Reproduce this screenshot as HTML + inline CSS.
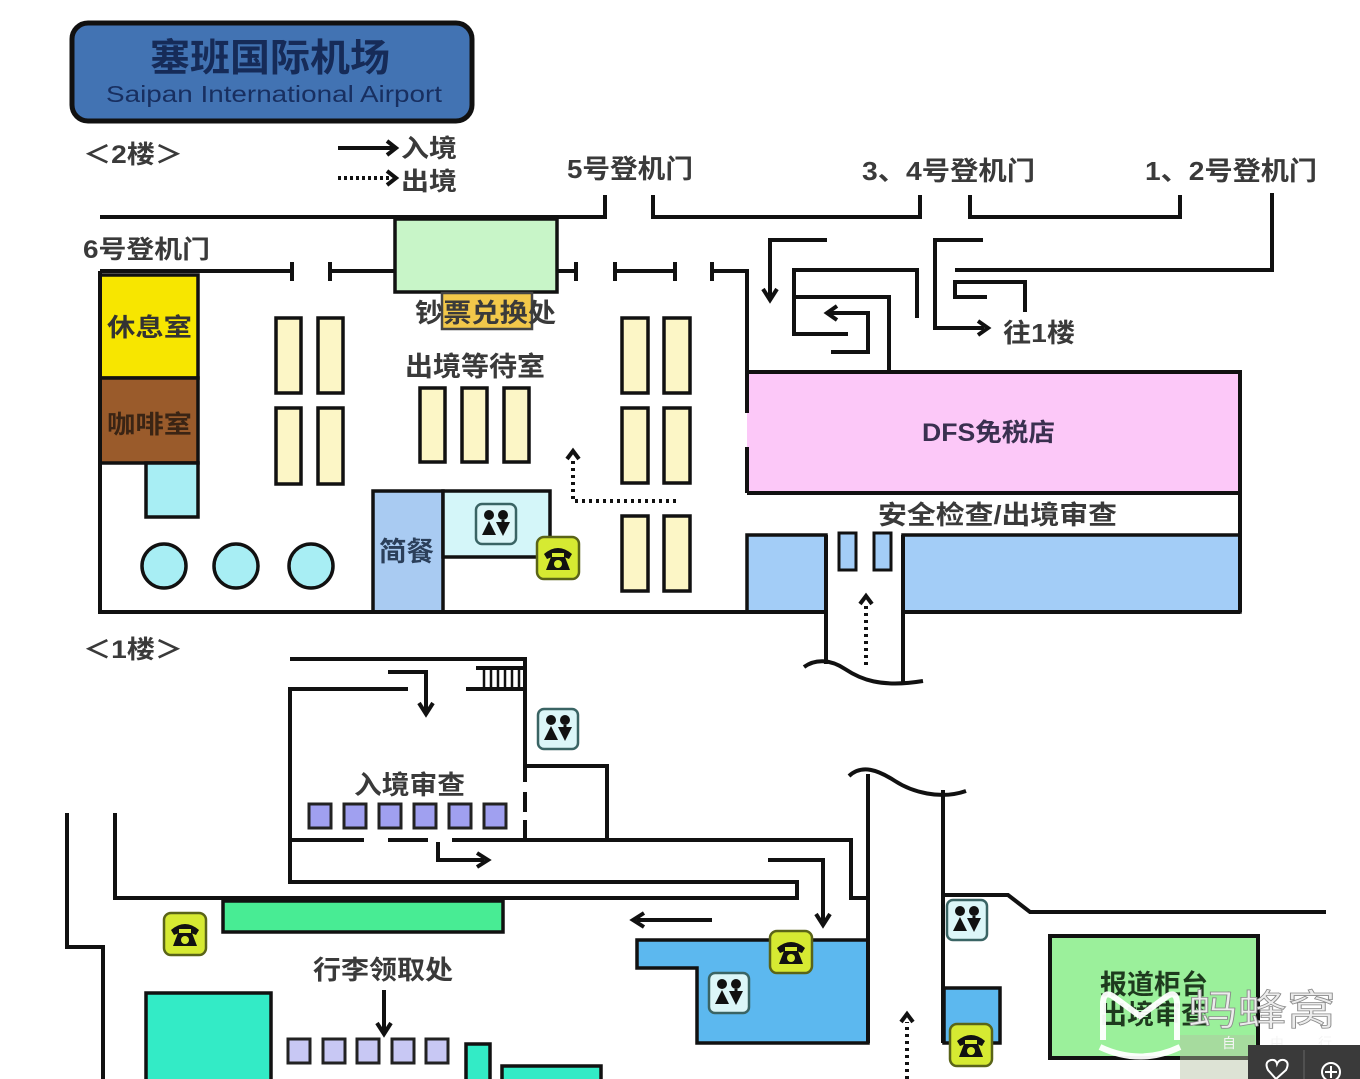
<!DOCTYPE html>
<html><head><meta charset="utf-8">
<style>
html,body{margin:0;padding:0;background:#fff;}
svg{display:block;}
.t{font-family:"Liberation Sans","Noto Sans CJK SC",sans-serif;font-weight:700;fill:#3a3a3a;}
</style></head><body>
<svg width="1360" height="1079" viewBox="0 0 1360 1079" xmlns="http://www.w3.org/2000/svg">
<defs>
  <g id="wc">
    <rect x="2" y="2" width="40" height="40" rx="6" fill="#dcf6f8" stroke="#3a6464" stroke-width="2.5"/>
    <circle cx="15" cy="13" r="5" fill="#111"/>
    <circle cx="29" cy="13" r="5" fill="#111"/>
    <polygon points="15,19 8,33 22,33" fill="#111"/>
    <polygon points="22,20 36,20 29,34" fill="#111"/>
    <rect x="27.5" y="18" width="3" height="4" fill="#111"/>
  </g>
  <g id="ph">
    <rect x="2" y="2" width="42" height="42" rx="7" fill="#d6ea32" stroke="#5a6418" stroke-width="2.5"/>
    <path d="M9,19 Q23,7 37,19 L34,24 L29,22 L29,18 L17,18 L17,22 L12,24 Z" fill="#111"/>
    <path d="M16,22 L30,22 L35,35 L11,35 Z" fill="#111"/>
    <circle cx="23" cy="29" r="4" fill="#d6ea32"/>
  </g>
</defs>

<!-- Title -->
<rect x="72" y="23" width="400" height="98" rx="16" fill="#4273b3" stroke="#111" stroke-width="5"/>
<text class="t" x="150" y="71" font-size="38" textLength="240" lengthAdjust="spacingAndGlyphs" style="fill:#162b58">塞班国际机场</text>
<text x="106" y="102" font-size="23" textLength="336" lengthAdjust="spacingAndGlyphs" style="font-family:'Liberation Sans',sans-serif;fill:#182f60">Saipan International Airport</text>

<!-- Floor labels / legend -->
<text class="t" x="83" y="163" font-size="25" textLength="100" lengthAdjust="spacingAndGlyphs">＜2楼＞</text>
<g stroke="#111" stroke-width="4" fill="none">
  <line x1="338" y1="148" x2="394" y2="148"/>
  <polyline points="387,141 396,148 387,155"/>
  <line x1="338" y1="178" x2="390" y2="178" stroke-dasharray="3 3"/>
  <polyline points="387,171 396,178 387,185"/>
</g>
<text class="t" x="401" y="157" font-size="25" textLength="56" lengthAdjust="spacingAndGlyphs">入境</text>
<text class="t" x="401" y="190" font-size="25" textLength="56" lengthAdjust="spacingAndGlyphs">出境</text>

<!-- Gate labels -->
<text class="t" x="83" y="258" font-size="25" textLength="127" lengthAdjust="spacingAndGlyphs">6号登机门</text>
<text class="t" x="567" y="178" font-size="26" textLength="126" lengthAdjust="spacingAndGlyphs">5号登机门</text>
<text class="t" x="862" y="180" font-size="26" textLength="173" lengthAdjust="spacingAndGlyphs">3、4号登机门</text>
<text class="t" x="1145" y="180" font-size="26" textLength="172" lengthAdjust="spacingAndGlyphs">1、2号登机门</text>

<!-- Floor 2 coloured areas -->
<rect x="395" y="219" width="162" height="73" fill="#c8f5c8" stroke="#111" stroke-width="3.5"/>
<rect x="442" y="293" width="90" height="36" fill="#f2c84a" stroke="#444" stroke-width="2.5"/>
<text class="t" x="415" y="322" font-size="26" textLength="141" lengthAdjust="spacingAndGlyphs">钞票兑换处</text>

<rect x="100" y="275" width="98" height="103" fill="#f7e600" stroke="#111" stroke-width="3.5"/>
<rect x="100" y="378" width="98" height="85" fill="#9a5b2b" stroke="#111" stroke-width="3.5"/>
<rect x="146" y="463" width="52" height="54" fill="#a8eef4" stroke="#111" stroke-width="3.5"/>
<text class="t" x="107" y="336" font-size="25" textLength="85" lengthAdjust="spacingAndGlyphs" style="fill:#333">休息室</text>
<text class="t" x="107" y="433" font-size="25" textLength="85" lengthAdjust="spacingAndGlyphs" style="fill:#3a2414">咖啡室</text>

<g fill="#a8eef4" stroke="#111" stroke-width="3.5">
  <circle cx="164" cy="566" r="22"/>
  <circle cx="236" cy="566" r="22"/>
  <circle cx="311" cy="566" r="22"/>
</g>

<g fill="#fcf6c6" stroke="#111" stroke-width="3.5">
  <rect x="276" y="318" width="25" height="75"/>
  <rect x="318" y="318" width="25" height="75"/>
  <rect x="276" y="408" width="25" height="76"/>
  <rect x="318" y="408" width="25" height="76"/>
  <rect x="420" y="388" width="25" height="74"/>
  <rect x="462" y="388" width="25" height="74"/>
  <rect x="504" y="388" width="25" height="74"/>
  <rect x="622" y="318" width="26" height="75"/>
  <rect x="664" y="318" width="26" height="75"/>
  <rect x="622" y="408" width="26" height="75"/>
  <rect x="664" y="408" width="26" height="75"/>
  <rect x="622" y="516" width="26" height="75"/>
  <rect x="664" y="516" width="26" height="75"/>
</g>
<text class="t" x="405" y="376" font-size="27" textLength="140" lengthAdjust="spacingAndGlyphs">出境等待室</text>

<rect x="373" y="491" width="70" height="121" fill="#a9cbf2" stroke="#111" stroke-width="3.5"/>
<rect x="443" y="491" width="107" height="66" fill="#d4f6f9" stroke="#111" stroke-width="3.5"/>
<text class="t" x="379" y="561" font-size="27" textLength="55" lengthAdjust="spacingAndGlyphs" style="fill:#2b3f5a">简餐</text>
<use href="#wc" x="474" y="502"/>
<use href="#ph" x="535" y="535"/>

<!-- DFS & security -->
<rect x="747" y="372" width="493" height="121" fill="#fcc8f8"/>
<text class="t" x="922" y="441" font-size="25" textLength="133" lengthAdjust="spacingAndGlyphs" style="fill:#3a3050">DFS免税店</text>
<text class="t" x="878" y="524" font-size="26" textLength="239" lengthAdjust="spacingAndGlyphs">安全检查/出境审查</text>
<rect x="747" y="535" width="79" height="77" fill="#a3cdf7" stroke="#111" stroke-width="3.5"/>
<rect x="903" y="535" width="337" height="77" fill="#a3cdf7" stroke="#111" stroke-width="3.5"/>
<rect x="839" y="533" width="17" height="37" fill="#a3cdf7" stroke="#111" stroke-width="3"/>
<rect x="874" y="533" width="17" height="37" fill="#a3cdf7" stroke="#111" stroke-width="3"/>
<text class="t" x="1003" y="342" font-size="26" textLength="72" lengthAdjust="spacingAndGlyphs">往1楼</text>

<!-- Floor 2 walls -->
<g stroke="#111" stroke-width="4" fill="none" stroke-linejoin="miter">
  <polyline points="100,217 605,217 605,195"/>
  <polyline points="653,195 653,217 920,217 920,195"/>
  <polyline points="970,195 970,217 1180,217 1180,195"/>
  <polyline points="1272,193 1272,270 955,270"/>
  <line x1="100" y1="271" x2="292" y2="271"/>
  <line x1="292" y1="262" x2="292" y2="281"/>
  <line x1="330" y1="262" x2="330" y2="281"/>
  <line x1="330" y1="271" x2="395" y2="271"/>
  <line x1="557" y1="271" x2="576" y2="271"/>
  <line x1="576" y1="262" x2="576" y2="281"/>
  <line x1="615" y1="262" x2="615" y2="281"/>
  <line x1="615" y1="271" x2="675" y2="271"/>
  <line x1="675" y1="262" x2="675" y2="281"/>
  <line x1="712" y1="262" x2="712" y2="281"/>
  <polyline points="712,271 747,271 747,413"/>
  <line x1="747" y1="447" x2="747" y2="493"/>
  <line x1="745" y1="372" x2="1242" y2="372"/>
  <line x1="747" y1="493" x2="1240" y2="493"/>
  <line x1="1240" y1="370" x2="1240" y2="612"/>
  <polyline points="100,271 100,612 826,612"/>
  <line x1="903" y1="612" x2="1240" y2="612"/>
  <line x1="826" y1="535" x2="826" y2="664"/>
  <line x1="903" y1="535" x2="903" y2="683"/>
  <path d="M804,667 C815,659 830,659 845,669 S880,688 923,681"/>
  <!-- arrows right side -->
  <polyline points="827,240 770,240 770,296"/>
  <polyline points="763,289 770,300 777,289"/>
  <polyline points="917,318 917,270 794,270 794,334 848,334"/>
  <polyline points="794,297 889,297 889,372"/>
  <polyline points="831,352 868,352 868,313 830,313"/>
  <polyline points="837,306 827,313 837,320"/>
  <polyline points="983,240 935,240 935,328 984,328"/>
  <polyline points="978,321 988,328 978,335"/>
  <polyline points="987,297 955,297 955,282 1025,282 1025,312"/>
  <!-- dotted arrows -->
  <polyline points="676,501 573,501 573,460" stroke-dasharray="3 4"/>
  <polyline points="567,459 573,451 579,459"/>
  <line x1="866" y1="665" x2="866" y2="604" stroke-dasharray="3 4"/>
  <polyline points="860,604 866,596 872,604"/>
</g>

<!-- Floor 1 -->
<text class="t" x="83" y="658" font-size="25" textLength="100" lengthAdjust="spacingAndGlyphs">＜1楼＞</text>
<text class="t" x="354" y="794" font-size="26" textLength="111" lengthAdjust="spacingAndGlyphs">入境审查</text>
<g fill="#a0a0f0" stroke="#222" stroke-width="3">
  <rect x="309" y="804" width="22" height="24"/>
  <rect x="344" y="804" width="22" height="24"/>
  <rect x="379" y="804" width="22" height="24"/>
  <rect x="414" y="804" width="22" height="24"/>
  <rect x="449" y="804" width="22" height="24"/>
  <rect x="484" y="804" width="22" height="24"/>
</g>
<use href="#wc" x="536" y="707"/>

<rect x="223" y="901" width="280" height="31" fill="#48ec94" stroke="#111" stroke-width="3.5"/>
<use href="#ph" x="162" y="911"/>
<text class="t" x="313" y="979" font-size="26" textLength="140" lengthAdjust="spacingAndGlyphs">行李领取处</text>
<g fill="#c8c8f4" stroke="#222" stroke-width="3">
  <rect x="288" y="1039" width="22" height="24"/>
  <rect x="323" y="1039" width="22" height="24"/>
  <rect x="357" y="1039" width="22" height="24"/>
  <rect x="392" y="1039" width="22" height="24"/>
  <rect x="426" y="1039" width="22" height="24"/>
</g>
<g fill="#33ebc6" stroke="#111" stroke-width="3.5">
  <rect x="146" y="993" width="125" height="90"/>
  <rect x="466" y="1044" width="24" height="40"/>
  <rect x="502" y="1066" width="99" height="20"/>
</g>

<polygon points="637,940 868,940 868,1043 697,1043 697,968 637,968" fill="#5cb8ef" stroke="#111" stroke-width="3.5"/>
<rect x="944" y="988" width="56" height="55" fill="#5cb8ef" stroke="#111" stroke-width="3.5"/>
<use href="#ph" x="768" y="929"/>
<use href="#wc" x="707" y="971"/>
<use href="#wc" x="945" y="898"/>
<use href="#ph" x="948" y="1022"/>

<rect x="1050" y="936" width="208" height="122" fill="#9bf09b" stroke="#111" stroke-width="4"/>
<text class="t" x="1100" y="994" font-size="27" textLength="108" lengthAdjust="spacingAndGlyphs" style="fill:#1e3a1e">报道柜台</text>
<text class="t" x="1100" y="1024" font-size="27" textLength="108" lengthAdjust="spacingAndGlyphs" style="fill:#1e3a1e">出境审查</text>

<g stroke="#111" stroke-width="4" fill="none" stroke-linejoin="miter">
  <line x1="290" y1="659" x2="525" y2="659"/>
  <polyline points="408,689 290,689 290,882 797,882 797,898 115,898 115,813"/>
  <line x1="466" y1="689" x2="525" y2="689"/>
  <line x1="476" y1="668" x2="525" y2="668"/>
  <line x1="525" y1="657" x2="525" y2="782"/>
  <line x1="525" y1="792" x2="525" y2="812"/>
  <line x1="525" y1="820" x2="525" y2="840"/>
  <polyline points="525,766 607,766 607,840"/>
  <line x1="290" y1="840" x2="364" y2="840"/>
  <line x1="388" y1="840" x2="428" y2="840"/>
  <polyline points="452,840 851,840 851,898 868,898"/>
  <line x1="868" y1="774" x2="868" y2="1043"/>
  <line x1="943" y1="790" x2="943" y2="1043"/>
  <path d="M849,776 C862,764 878,770 895,781 S940,800 966,791"/>
  <polyline points="943,895 1008,895 1030,912 1326,912"/>
  <polyline points="67,813 67,947 103,947 103,1079"/>
  <!-- arrows -->
  <polyline points="388,672 426,672 426,710"/>
  <polyline points="419,703 426,714 433,703"/>
  <polyline points="438,842 438,860 484,860"/>
  <polyline points="477,853 488,860 477,867"/>
  <polyline points="768,860 823,860 823,921"/>
  <polyline points="816,914 823,925 830,914"/>
  <line x1="712" y1="920" x2="637" y2="920"/>
  <polyline points="644,913 633,920 644,927"/>
  <line x1="384" y1="990" x2="384" y2="1030"/>
  <polyline points="377,1023 384,1034 391,1023"/>
  <line x1="907" y1="1079" x2="907" y2="1022" stroke-dasharray="3 4"/>
  <polyline points="901,1022 907,1014 913,1022"/>
</g>
<g stroke="#111" stroke-width="2.5">
  <line x1="484" y1="668" x2="484" y2="689"/>
  <line x1="491" y1="668" x2="491" y2="689"/>
  <line x1="498" y1="668" x2="498" y2="689"/>
  <line x1="505" y1="668" x2="505" y2="689"/>
  <line x1="512" y1="668" x2="512" y2="689"/>
  <line x1="519" y1="668" x2="519" y2="689"/>
</g>

<!-- watermark -->
<rect x="1180" y="1035" width="75" height="44" fill="#b4c0a2" opacity="0.45"/>
<path d="M1103,1040 L1103,1002 Q1104,990 1114,997 L1140,1016 L1166,997 Q1176,990 1177,1002 L1177,1040" stroke="#fff" stroke-width="6" fill="none" opacity="0.95"/>
<path d="M1100,1047 Q1140,1066 1180,1047" stroke="#fff" stroke-width="6" fill="none" opacity="0.95"/>
<text x="1188" y="1025" font-size="42" textLength="148" lengthAdjust="spacingAndGlyphs" style="font-family:'Liberation Sans','Noto Sans CJK SC',sans-serif;fill:#ececec;stroke:#8a8a8a;stroke-width:0.8">蚂蜂窝</text>
<text x="1222" y="1048" font-size="14" textLength="110" lengthAdjust="spacing" style="font-family:'Liberation Sans','Noto Sans CJK SC',sans-serif;fill:#f4f4f4">自 由 行</text>
<rect x="1248" y="1045" width="112" height="34" fill="#3a3a3a"/>
<line x1="1304" y1="1050" x2="1304" y2="1079" stroke="#666" stroke-width="1"/>
<path d="M1276,1079 L1268,1070 Q1264,1062 1271,1060 Q1276,1059 1277,1064 Q1279,1059 1284,1060 Q1290,1062 1286,1070 Z" fill="none" stroke="#fff" stroke-width="2"/>
<circle cx="1331" cy="1072" r="9" fill="none" stroke="#fff" stroke-width="2"/>
<line x1="1331" y1="1066" x2="1331" y2="1078" stroke="#fff" stroke-width="2"/>
<line x1="1325" y1="1072" x2="1337" y2="1072" stroke="#fff" stroke-width="2"/>
</svg>
</body></html>
